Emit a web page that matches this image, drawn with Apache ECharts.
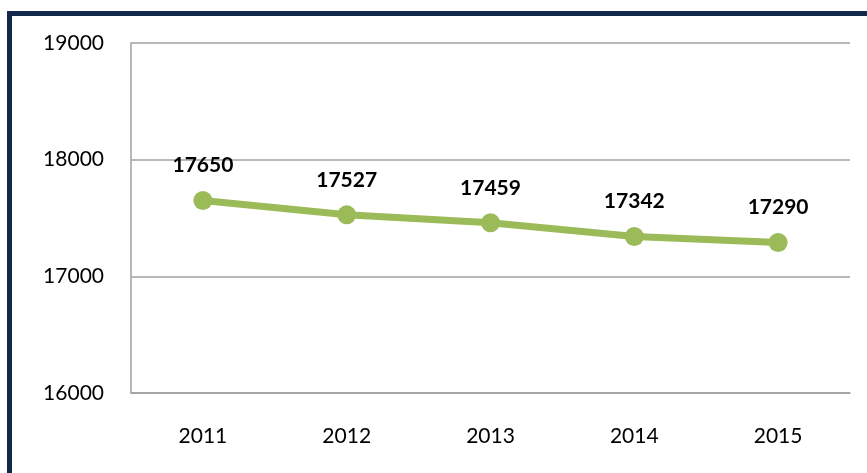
<!DOCTYPE html>
<html>
<head>
<meta charset="utf-8">
<script src="https://cdn.jsdelivr.net/npm/echarts@6/dist/echarts.min.js"></script>
<style>
  html, body { margin: 0; padding: 0; background: #fff; overflow: hidden; }
  #frame {
    position: absolute; left: 7px; top: 11px; width: 1000px; height: 600px;
    border-left: 5px solid #13294b; border-top: 5px solid #13294b;
  }
  #main { position: absolute; left: 0; top: 0; width: 867px; height: 473px; }
</style>
</head>
<body>
<div id="frame"></div>
<div id="main"></div>
<script>
// data
const years = ['2011', '2012', '2013', '2014', '2015'];
const values = [17650, 17527, 17459, 17342, 17290];

const fontFamily = 'Lato, "Open Sans", sans-serif';
const gridColor = '#a0a0a0';

let chart = echarts.init(document.getElementById('main'));
chart.setOption({
  animation: false,
  grid: { left: 131, right: 17, top: 43, bottom: 80 },
  xAxis: {
    type: 'category',
    data: years,
    boundaryGap: true,
    axisTick: { show: false },
    axisLine: { show: true, lineStyle: { color: gridColor, width: 1.5 } },
    axisLabel: { color: '#000', fontSize: 21, fontFamily, margin: 33 }
  },
  yAxis: {
    type: 'value',
    min: 16000,
    max: 19000,
    interval: 1000,
    axisLine: { show: true, lineStyle: { color: gridColor, width: 1.5 } },
    axisTick: { show: false },
    splitLine: { show: true, lineStyle: { color: gridColor, width: 1.5 } },
    axisLabel: { color: '#000', fontSize: 21, fontFamily, margin: 27, formatter: v => String(v) }
  },
  series: [{
    type: 'line',
    data: values,
    symbol: 'circle',
    symbolSize: 19,
    lineStyle: { color: '#9bbb59', width: 7 },
    itemStyle: { color: '#9bbb59' },
    label: {
      show: true,
      position: 'top',
      distance: 15,
      color: '#000',
      fontSize: 21,
      fontWeight: 'bold',
      fontFamily
    }
  }]
});
</script>
</body>
</html>
